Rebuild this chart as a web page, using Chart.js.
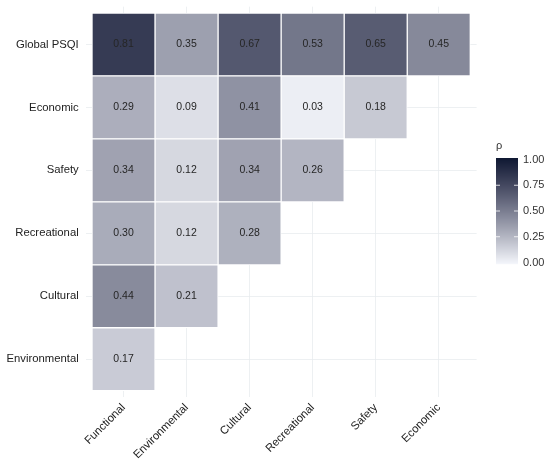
<!DOCTYPE html>
<html>
<head>
<meta charset="utf-8">
<script src="https://cdn.jsdelivr.net/npm/chart.js@4"></script>
<style>
  html, body { margin: 0; padding: 0; background: #fff; }
  #wrap { width: 550px; height: 465px; }
</style>
</head>
<body>
<div id="wrap"><canvas id="heat"></canvas></div>
<script>
// categorias das colunas (eixo x) e linhas (eixo y, de baixo para cima)
const colunas = ["Functional", "Environmental", "Cultural", "Recreational", "Safety", "Economic"];
const linhas = ["Environmental", "Cultural", "Recreational", "Safety", "Economic", "Global PSQI"];

// valores de rho por linha (na ordem das colunas)
const rhoEnvironmental = [0.17];
const rhoCultural = [0.44, 0.21];
const rhoRecreational = [0.30, 0.12, 0.28];
const rhoSafety = [0.34, 0.12, 0.34, 0.26];
const rhoEconomic = [0.29, 0.09, 0.41, 0.03, 0.18];
const rhoGlobal = [0.81, 0.35, 0.67, 0.53, 0.65, 0.45];

const valoresPorLinha = [rhoEnvironmental, rhoCultural, rhoRecreational, rhoSafety, rhoEconomic, rhoGlobal];

// ticks da barra de cores
const legendaTicks = [0, 0.25, 0.5, 0.75, 1];

// interpolacao de cor em Lab (claro -> azul escuro), como no ggplot
const corBaixa = [244, 246, 251];
const corAlta = [14, 24, 50];

function toLab(rgb) {
  const lin = rgb.map((c) => {
    c /= 255;
    return c <= 0.04045 ? c / 12.92 : Math.pow((c + 0.055) / 1.055, 2.4);
  });
  const X = (lin[0] * 0.4124 + lin[1] * 0.3576 + lin[2] * 0.1805) / 0.95047;
  const Y = lin[0] * 0.2126 + lin[1] * 0.7152 + lin[2] * 0.0722;
  const Z = (lin[0] * 0.0193 + lin[1] * 0.1192 + lin[2] * 0.9505) / 1.08883;
  const f = (t) => (t > 0.008856 ? Math.cbrt(t) : 7.787 * t + 16 / 116);
  return [116 * f(Y) - 16, 500 * (f(X) - f(Y)), 200 * (f(Y) - f(Z))];
}

function fromLab(lab) {
  const fy = (lab[0] + 16) / 116;
  const fx = fy + lab[1] / 500;
  const fz = fy - lab[2] / 200;
  const inv = (t) => (t * t * t > 0.008856 ? t * t * t : (t - 16 / 116) / 7.787);
  const X = inv(fx) * 0.95047, Y = inv(fy), Z = inv(fz) * 1.08883;
  const r = X * 3.2406 + Y * -1.5372 + Z * -0.4986;
  const g = X * -0.9689 + Y * 1.8758 + Z * 0.0415;
  const b = X * 0.0557 + Y * -0.204 + Z * 1.057;
  return [r, g, b].map((c) => {
    c = c <= 0.0031308 ? 12.92 * c : 1.055 * Math.pow(c, 1 / 2.4) - 0.055;
    return Math.round(Math.min(1, Math.max(0, c)) * 255);
  });
}

const labBaixa = toLab(corBaixa);
const labAlta = toLab(corAlta);

function corRho(v) {
  const lab = labBaixa.map((c, i) => c + (labAlta[i] - c) * v);
  const rgb = fromLab(lab);
  return `rgb(${rgb[0]},${rgb[1]},${rgb[2]})`;
}

// monta um dataset por linha com barras flutuantes
const datasets = valoresPorLinha.map((vals, r) => ({
  label: linhas[r],
  data: vals.map((v, c) => ({ x: c, y: [r - 0.5, r + 0.5], v: v })),
  backgroundColor: (ctx) => (ctx.raw ? corRho(ctx.raw.v) : "#fff"),
  borderColor: "#ffffff",
  borderWidth: 1,
  borderSkipped: false,
  grouped: false,
  barPercentage: 1,
  categoryPercentage: 1,
}));

const fonte = "'Liberation Sans', Arial, sans-serif";

// escreve os valores dentro das celulas
const rotulosCelulas = {
  id: "rotulosCelulas",
  afterDatasetsDraw(chart) {
    const ctx = chart.ctx;
    ctx.save();
    ctx.font = `10.5px ${fonte}`;
    ctx.fillStyle = "#262626";
    ctx.textAlign = "center";
    ctx.textBaseline = "middle";
    chart.data.datasets.forEach((ds, i) => {
      chart.getDatasetMeta(i).data.forEach((el, j) => {
        const p = el.getCenterPoint();
        ctx.fillText(ds.data[j].v.toFixed(2), p.x, p.y);
      });
    });
    ctx.restore();
  },
};

// barra de cores a direita
const barraCores = {
  id: "barraCores",
  afterDraw(chart) {
    const ctx = chart.ctx;
    const x0 = 496, w = 22, topo = 158, base = 264;
    const alt = base - topo;
    ctx.save();
    for (let k = 0; k < alt; k++) {
      const v = 1 - (k + 0.5) / alt;
      ctx.fillStyle = corRho(v);
      ctx.fillRect(x0, topo + k, w, 1.2);
    }
    ctx.strokeStyle = "rgba(255,255,255,0.8)";
    ctx.lineWidth = 1;
    ctx.font = `11px ${fonte}`;
    ctx.fillStyle = "#333";
    ctx.textAlign = "left";
    ctx.textBaseline = "middle";
    legendaTicks.forEach((t) => {
      const y = base - 1.5 - t * (alt - 3);
      if (t > 0 && t < 1) {
        ctx.beginPath();
        ctx.moveTo(x0, y);
        ctx.lineTo(x0 + 4, y);
        ctx.moveTo(x0 + w - 4, y);
        ctx.lineTo(x0 + w, y);
        ctx.stroke();
      }
      ctx.fillText(t.toFixed(2), 523, y);
    });
    ctx.font = `11px ${fonte}`;
    ctx.fillText("ρ", 496, 146);
    ctx.restore();
  },
};

new Chart(document.getElementById("heat"), {
  type: "bar",
  data: { datasets: datasets },
  plugins: [rotulosCelulas, barraCores],
  options: {
    responsive: true,
    maintainAspectRatio: false,
    animation: false,
    layout: { padding: { top: 6.7, right: 73.4, left: 0, bottom: 0 } },
    plugins: { legend: { display: false }, tooltip: { enabled: false } },
    scales: {
      x: {
        type: "linear",
        offset: false,
        min: -0.6,
        max: 5.6,
        afterBuildTicks: (scale) => {
          scale.ticks = colunas.map((c, i) => ({ value: i }));
        },
        afterFit: (scale) => {
          scale.height = 68;
        },
        ticks: {
          autoSkip: false,
          minRotation: 45,
          maxRotation: 45,
          padding: 4,
          color: "#222",
          font: { family: fonte, size: 11.3 },
          callback: (v) => colunas[v],
        },
        grid: { color: "#e8ecef", lineWidth: 0.8, drawTicks: false, offset: false },
        border: { display: false },
      },
      y: {
        type: "linear",
        min: -0.6,
        max: 5.6,
        afterBuildTicks: (scale) => {
          scale.ticks = linhas.map((l, i) => ({ value: i }));
        },
        afterFit: (scale) => {
          scale.width = 85.7;
          scale.paddingTop = 0;
          scale.paddingBottom = 0;
        },
        ticks: {
          padding: 7,
          color: "#222",
          font: { family: fonte, size: 11.3 },
          callback: (v) => linhas[v],
        },
        grid: { color: "#e8ecef", lineWidth: 0.8, drawTicks: false },
        border: { display: false },
      },
    },
  },
});
</script>
</body>
</html>
